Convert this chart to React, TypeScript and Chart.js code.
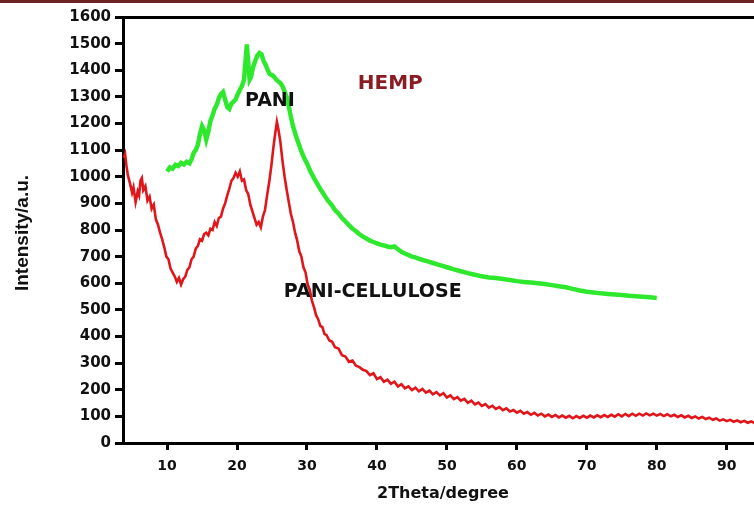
import React, { useEffect, useRef } from "react";
import { Chart, registerables } from "chart.js";

Chart.register(...registerables);

// ---------- data ----------
const xTickValues = [10, 20, 30, 40, 50, 60, 70, 80, 90];
const yTickValues = [0, 100, 200, 300, 400, 500, 600, 700, 800, 900, 1000, 1100, 1200, 1300, 1400, 1500, 1600];

const seriesNames = ["PANI", "PANI-CELLULOSE"];

// PANI (green) : [2theta, intensity]
const paniPoints: [number, number][] = [
  [10.0, 1020], [10.4, 1035], [10.8, 1030], [11.2, 1045], [11.6, 1040], [12.0, 1052], [12.4, 1046], [12.8, 1056],
  [13.2, 1050], [13.5, 1065], [13.8, 1090], [14.1, 1100], [14.4, 1120], [14.7, 1160], [15.0, 1190], [15.3, 1175],
  [15.6, 1140], [15.9, 1170], [16.2, 1210], [16.5, 1230], [16.8, 1255], [17.1, 1270], [17.4, 1295], [17.7, 1310],
  [18.0, 1318], [18.3, 1290], [18.6, 1262], [18.9, 1255], [19.2, 1275], [19.5, 1282], [19.8, 1290], [20.1, 1310],
  [20.4, 1326], [20.7, 1340], [21.0, 1365], [21.2, 1430], [21.4, 1497], [21.6, 1430], [21.8, 1365], [22.0, 1375],
  [22.3, 1412], [22.6, 1435], [22.9, 1455], [23.2, 1465], [23.5, 1460], [23.8, 1435], [24.1, 1420], [24.4, 1400],
  [24.7, 1385], [25.0, 1382], [25.3, 1375], [25.6, 1365], [25.9, 1358], [26.2, 1352], [26.5, 1340], [26.8, 1320],
  [27.1, 1300], [27.4, 1265], [27.7, 1225], [28.0, 1190], [28.4, 1155], [28.8, 1125], [29.2, 1095], [29.6, 1070],
  [30.0, 1050], [30.5, 1020], [31.0, 995], [31.5, 972], [32.0, 950], [32.5, 930], [33.0, 910], [33.5, 895],
  [34.0, 875], [34.5, 862], [35.0, 845], [35.5, 832], [36.0, 818], [36.5, 805], [37.0, 795], [37.5, 784],
  [38.0, 775], [38.5, 768], [39.0, 760], [39.5, 755], [40.0, 750], [40.5, 745], [41.0, 742], [41.5, 738],
  [42.0, 735], [42.5, 738], [43.0, 728], [43.5, 718], [44.0, 712], [44.5, 706], [45.0, 700], [45.5, 697],
  [46.0, 692], [46.5, 688], [47.0, 684], [47.5, 680], [48.0, 676], [48.5, 672], [49.0, 668], [49.5, 664],
  [50.0, 660], [51.0, 652], [52.0, 645], [53.0, 638], [54.0, 632], [55.0, 626], [56.0, 622], [57.0, 620],
  [58.0, 616], [59.0, 612], [60.0, 608], [61.0, 605], [62.0, 603], [63.0, 600], [64.0, 597], [65.0, 593],
  [66.0, 589], [67.0, 585], [68.0, 579], [69.0, 573], [70.0, 568], [71.0, 565], [72.0, 562], [73.0, 560],
  [74.0, 558], [75.0, 556], [76.0, 553], [77.0, 551], [78.0, 549], [79.0, 547], [80.0, 545],
];

// PANI-CELLULOSE (red) : [2theta, intensity]
const paniCellulosePoints: [number, number][] = [
  [3.8, 1070], [4.0, 1085], [4.2, 1040], [4.4, 1005], [4.7, 975], [5.0, 940], [5.2, 960], [5.5, 905],
  [5.8, 945], [6.0, 930], [6.2, 985], [6.4, 995], [6.6, 950], [6.9, 965], [7.2, 910], [7.5, 925],
  [7.8, 880], [8.1, 895], [8.4, 840], [8.7, 820], [9.0, 790], [9.3, 765], [9.6, 735], [9.9, 700],
  [10.2, 690], [10.5, 655], [10.8, 640], [11.1, 625], [11.4, 605], [11.7, 620], [12.0, 595], [12.3, 615],
  [12.6, 625], [12.9, 650], [13.2, 660], [13.5, 690], [13.8, 700], [14.1, 730], [14.4, 740], [14.7, 765],
  [15.0, 760], [15.3, 785], [15.6, 790], [15.9, 780], [16.2, 805], [16.5, 800], [16.8, 830], [17.1, 815],
  [17.4, 845], [17.7, 850], [18.0, 880], [18.3, 900], [18.6, 930], [18.9, 955], [19.2, 985], [19.5, 995],
  [19.8, 1015], [20.1, 1000], [20.4, 1020], [20.7, 985], [21.0, 990], [21.3, 950], [21.6, 935], [21.9, 895],
  [22.2, 870], [22.5, 845], [22.8, 820], [23.1, 830], [23.4, 810], [23.7, 850], [24.0, 875], [24.3, 930],
  [24.6, 980], [24.9, 1040], [25.2, 1110], [25.5, 1170], [25.7, 1206], [25.9, 1180], [26.2, 1130], [26.5, 1060],
  [26.8, 1000], [27.1, 950], [27.4, 905], [27.7, 860], [28.0, 830], [28.3, 790], [28.6, 760], [28.9, 720],
  [29.2, 700], [29.5, 660], [29.8, 640], [30.1, 595], [30.4, 575], [30.7, 535], [31.0, 510], [31.3, 480],
  [31.6, 465], [31.9, 440], [32.2, 435], [32.5, 410], [32.8, 405], [33.2, 385], [33.6, 380], [34.0, 360],
  [34.5, 355], [35.0, 330], [35.5, 325], [36.0, 305], [36.5, 310], [37.0, 290], [37.5, 285], [38.0, 275],
  [38.5, 270], [39.0, 255], [39.5, 262], [40.0, 240], [40.5, 247], [41.0, 230], [41.5, 238], [42.0, 222],
  [42.5, 230], [43.0, 212], [43.5, 221], [44.0, 205], [44.5, 213], [45.0, 199], [45.5, 208], [46.0, 194],
  [46.5, 203], [47.0, 189], [47.5, 197], [48.0, 183], [48.5, 191], [49.0, 179], [49.5, 187], [50.0, 171],
  [50.5, 179], [51.0, 165], [51.5, 172], [52.0, 159], [52.5, 166], [53.0, 151], [53.5, 159], [54.0, 145],
  [54.5, 152], [55.0, 139], [55.5, 146], [56.0, 133], [56.5, 140], [57.0, 128], [57.5, 135], [58.0, 123],
  [58.5, 130], [59.0, 118], [59.5, 124], [60.0, 114], [60.5, 121], [61.0, 110], [61.5, 116], [62.0, 106],
  [62.5, 113], [63.0, 103], [63.5, 110], [64.0, 100], [64.5, 107], [65.0, 98], [65.5, 105], [66.0, 96],
  [66.5, 103], [67.0, 95], [67.5, 102], [68.0, 93], [68.5, 101], [69.0, 94], [69.5, 102], [70.0, 95],
  [70.5, 103], [71.0, 96], [71.5, 104], [72.0, 97], [72.5, 105], [73.0, 98], [73.5, 106], [74.0, 99],
  [74.5, 108], [75.0, 100], [75.5, 109], [76.0, 101], [76.5, 110], [77.0, 102], [77.5, 110], [78.0, 103],
  [78.5, 111], [79.0, 104], [79.5, 110], [80.0, 103], [80.5, 109], [81.0, 101], [81.5, 108], [82.0, 100],
  [82.5, 106], [83.0, 98], [83.5, 104], [84.0, 96], [84.5, 102], [85.0, 94], [85.5, 100], [86.0, 92],
  [86.5, 98], [87.0, 90], [87.5, 95], [88.0, 87], [88.5, 92], [89.0, 84], [89.5, 89], [90.0, 82],
  [90.5, 87], [91.0, 80], [91.5, 85], [92.0, 78], [92.5, 83], [93.0, 76], [93.5, 81], [94.0, 75],
];

// text annotations, anchored in data coordinates
const annotations = [
  { text: "PANI", x: 24.7, y: 1285, color: "#111111", size: 19 },
  { text: "HEMP", x: 41.9, y: 1350, color: "#8a1c24", size: 20 },
  { text: "PANI-CELLULOSE", x: 39.4, y: 567, color: "#111111", size: 19 },
];

const xTitle = "2Theta/degree";
const yTitle = "Intensity/a.u.";

const FONT = "'DejaVu Sans', Verdana, sans-serif";

export default function App() {
  const canvasRef = useRef<HTMLCanvasElement | null>(null);

  useEffect(() => {
    if (!canvasRef.current) return;

    const textPlugin = {
      id: "textPlugin",
      afterDraw(chart: any) {
        const { ctx, chartArea, scales } = chart;
        ctx.save();
        ctx.textAlign = "center";
        ctx.textBaseline = "middle";
        for (const a of annotations) {
          ctx.fillStyle = a.color;
          ctx.font = `bold ${a.size}px ${FONT}`;
          ctx.fillText(a.text, scales.x.getPixelForValue(a.x), scales.y.getPixelForValue(a.y));
        }
        // axis titles
        ctx.fillStyle = "#111111";
        ctx.font = `bold 16px ${FONT}`;
        ctx.fillText(xTitle, 443, 494);
        ctx.save();
        ctx.translate(23, (chartArea.top + chartArea.bottom) / 2 + 3);
        ctx.rotate(-Math.PI / 2);
        ctx.font = `bold 19px 'Liberation Sans', Arial, sans-serif`;
        ctx.fillText(yTitle, 0, 0);
        ctx.restore();
        ctx.restore();
      },
    };

    const chart = new Chart(canvasRef.current, {
      type: "line",
      data: {
        datasets: [
          {
            label: seriesNames[0],
            data: paniPoints.map(([x, y]) => ({ x, y })),
            borderColor: "#2ee82e",
            borderWidth: 4.5,
            pointRadius: 0,
            tension: 0,
            fill: false,
          },
          {
            label: seriesNames[1],
            data: paniCellulosePoints.map(([x, y]) => ({ x, y })),
            borderColor: "#e0161a",
            borderWidth: 2.6,
            pointRadius: 0,
            tension: 0,
            fill: false,
          },
        ],
      },
      options: {
        animation: false,
        responsive: false,
        layout: { padding: { left: 0, right: 0, top: 0, bottom: 0 } },
        plugins: {
          legend: { display: false },
          tooltip: { enabled: false },
        },
        scales: {
          x: {
            type: "linear",
            position: "bottom",
            min: 3.7,
            max: 93.9,
            afterBuildTicks: (scale: any) => {
              scale.ticks = xTickValues.map((v) => ({ value: v }));
            },
            afterFit: (scale: any) => {
              scale.height = 64;
            },
            grid: {
              drawOnChartArea: false,
              drawTicks: true,
              tickLength: 7,
              tickWidth: 3,
              tickColor: "#000",
            },
            border: { display: true, color: "#000", width: 3 },
            ticks: {
              color: "#111",
              padding: 8,
              maxRotation: 0,
              autoSkip: false,
              callback: (v: any) => String(v),
              font: { family: FONT, size: 14, weight: "bold" },
            },
          },
          x2: {
            type: "linear",
            position: "top",
            min: 3.7,
            max: 93.9,
            afterFit: (scale: any) => {
              scale.height = 17;
            },
            grid: { display: false, drawTicks: false },
            border: { display: true, color: "#000", width: 3 },
            ticks: { display: false },
          },
          y: {
            type: "linear",
            position: "left",
            min: 0,
            max: 1600,
            afterBuildTicks: (scale: any) => {
              scale.ticks = yTickValues.map((v) => ({ value: v }));
            },
            afterFit: (scale: any) => {
              scale.width = 123;
            },
            grid: {
              drawOnChartArea: false,
              drawTicks: true,
              tickLength: 8,
              tickWidth: 3,
              tickColor: "#000",
            },
            border: { display: true, color: "#000", width: 3 },
            ticks: {
              color: "#111",
              padding: 4,
              autoSkip: false,
              callback: (v: any) => String(v),
              font: { family: FONT, size: 15, weight: "bold" },
            },
          },
        },
      },
      plugins: [textPlugin],
    } as any);

    return () => {
      chart.destroy();
    };
  }, []);

  return (
    <div style={{ position: "fixed", left: 0, top: 0, width: 754, height: 507, background: "#fff", overflow: "hidden" }}>
      <div style={{ position: "absolute", left: 0, top: 0, width: 754, height: 3, background: "#6e2323" }} />
      <canvas ref={canvasRef} width={754} height={507} style={{ display: "block", width: 754, height: 507 }} />
    </div>
  );
}
